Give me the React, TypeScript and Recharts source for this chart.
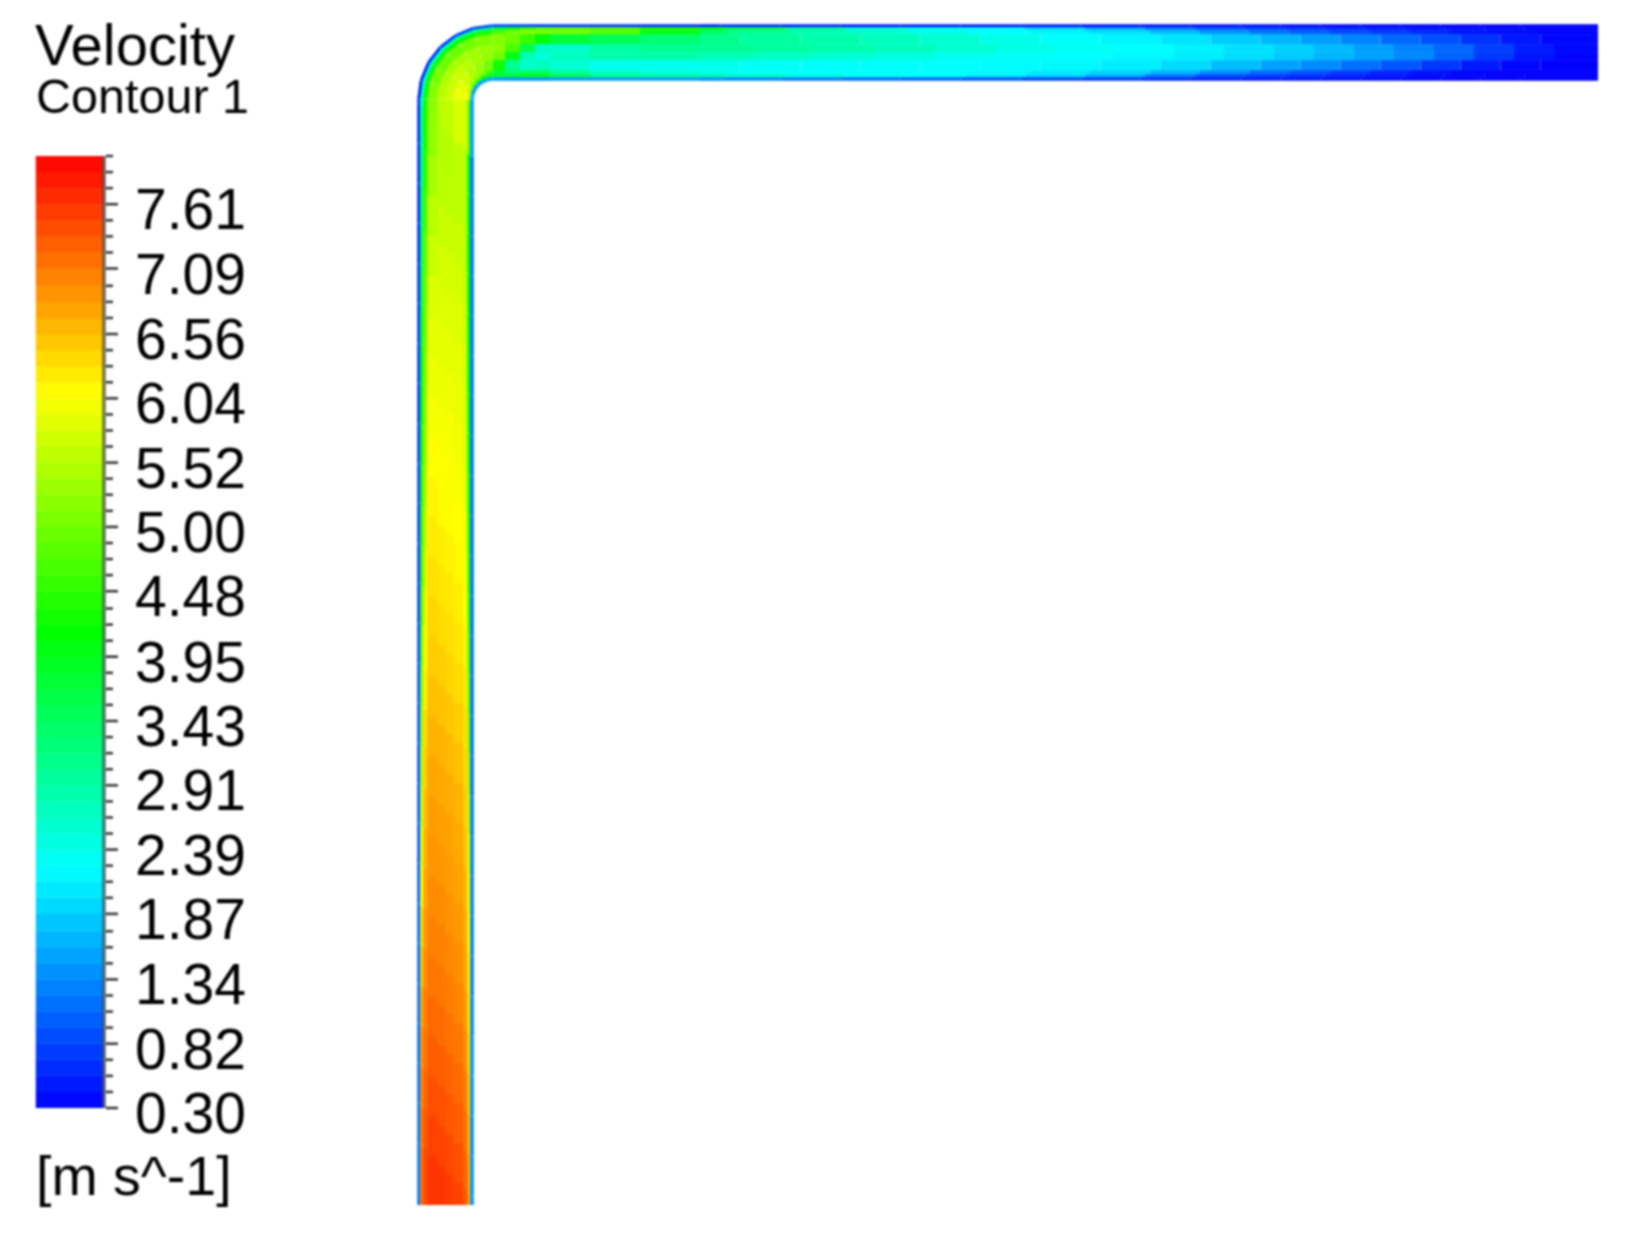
import React from 'react';
import { Bar, BarChart, ComposedChart, Line, XAxis, YAxis } from 'recharts';

// colour bar levels in m/s, bottom to top
const bandEdges = [
  0.3, 0.43, 0.56, 0.69, 0.82, 0.95, 1.08, 1.21, 1.34, 1.47, 1.6, 1.73, 1.87, 2.0, 2.13, 2.26, 2.39, 2.52, 2.65, 2.78,
  2.91, 3.04, 3.17, 3.3, 3.43, 3.56, 3.69, 3.82, 3.95, 4.08, 4.21, 4.34, 4.48, 4.61, 4.74, 4.87, 5.0, 5.13, 5.26, 5.39,
  5.52, 5.65, 5.78, 5.91, 6.04, 6.17, 6.3, 6.43, 6.56, 6.69, 6.82, 6.95, 7.09, 7.22, 7.35, 7.48, 7.61, 7.74, 7.87, 8.0,
];
const tickLabels = [0.3, 0.82, 1.34, 1.87, 2.39, 2.91, 3.43, 3.95, 4.48, 5.0, 5.52, 6.04, 6.56, 7.09, 7.61];

// stations along the pipe: up the riser, round the bend, along the top run
const riserY = [1205, 1170, 1130, 1090, 1050, 1010, 970, 930, 890, 850, 810, 770, 730, 690, 650, 610, 570, 530, 490, 450, 410, 370, 330, 290, 250, 210, 170, 130];
const bendDeg = [0, 15, 30, 45, 60, 75, 90];
const runX = [505, 520, 535, 550, 590, 640, 700, 760, 820, 880, 940, 1000, 1060, 1120, 1180, 1230, 1280, 1320, 1360, 1400, 1440, 1480, 1520, 1560, 1598];

// layer boundaries across the pipe, from the outer wall to the inner wall
const layerEdges = [0, 3, 6, 10, 20, 28, 36, 46, 50, 53, 56];

// velocity per layer at each station (riser, bend, run)
const layer0 = [
  1.3, 1.3, 1.2, 1.2, 1.2, 1.2, 1.1, 1.2, 1.0, 1.1, 1.0, 1.0, 1.0, 1.0, 0.9, 0.9, 0.9, 0.9, 0.9, 0.8, 0.8, 0.8, 0.8, 0.7, 0.7, 0.7, 0.7, 0.7,
  0.6, 0.6, 0.6, 0.7, 0.8, 0.9, 0.9,
  0.9, 0.9, 0.8, 0.8, 0.7, 0.7, 0.6, 0.6, 0.6, 0.5, 0.5, 0.5, 0.5, 0.4, 0.4, 0.4, 0.4, 0.4, 0.3, 0.3, 0.3, 0.3, 0.3, 0.3, 0.3,
];
const layer1 = [
  7.2, 7.1, 7.0, 6.9, 6.8, 6.6, 6.4, 6.2, 6.0, 5.8, 5.6, 5.4, 5.2, 5.0, 4.8, 4.6, 4.5, 4.4, 4.3, 4.2, 4.1, 3.9, 3.8, 3.6, 3.5, 3.3, 3.1, 3.0,
  2.8, 2.8, 2.8, 2.8, 3.0, 3.1, 3.4,
  4.0, 4.5, 4.8, 4.9, 4.9, 4.6, 4.1, 3.8, 3.3, 2.8, 2.5, 2.3, 2.1, 1.8, 1.4, 1.1, 0.9, 0.8, 0.7, 0.6, 0.5, 0.45, 0.4, 0.35, 0.3,
];
const layer2 = [
  7.5, 7.4, 7.3, 7.2, 7.1, 7.0, 6.9, 6.8, 6.7, 6.6, 6.5, 6.4, 6.3, 6.1, 6.0, 5.9, 5.7, 5.6, 5.4, 5.3, 5.2, 5.1, 5.0, 4.9, 4.7, 4.5, 4.3, 4.2,
  4.0, 4.0, 4.0, 4.0, 4.1, 4.2, 4.5,
  4.9, 5.2, 5.1, 5.0, 5.0, 4.6, 3.5, 3.2, 2.9, 2.7, 2.5, 2.3, 2.2, 2.1, 1.9, 1.6, 1.3, 1.1, 0.95, 0.8, 0.7, 0.5, 0.4, 0.35, 0.3,
];
const layer3 = [
  7.65, 7.55, 7.45, 7.35, 7.25, 7.15, 7.05, 7.0, 6.9, 6.85, 6.8, 6.7, 6.6, 6.5, 6.4, 6.35, 6.25, 6.2, 6.1, 6.05, 6.0, 5.9, 5.85, 5.75, 5.6, 5.5, 5.3, 5.2,
  5.2, 5.1, 5.0, 4.9, 5.0, 5.0, 5.2,
  5.1, 4.8, 4.3, 3.9, 3.6, 3.4, 3.2, 3.0, 2.9, 2.8, 2.65, 2.5, 2.3, 2.2, 2.1, 1.95, 1.75, 1.6, 1.4, 1.2, 1.0, 0.8, 0.55, 0.4, 0.3,
];
const layer4 = [
  7.65, 7.55, 7.45, 7.35, 7.25, 7.15, 7.05, 7.0, 6.9, 6.85, 6.75, 6.7, 6.6, 6.5, 6.4, 6.3, 6.25, 6.15, 6.05, 6.05, 6.0, 5.9, 5.85, 5.8, 5.7, 5.6, 5.5, 5.5,
  5.6, 5.5, 5.4, 5.4, 5.4, 5.3, 5.3,
  5.1, 4.3, 2.9, 2.4, 2.8, 3.0, 3.1, 3.0, 2.9, 2.8, 2.65, 2.5, 2.35, 2.25, 2.2, 2.05, 1.95, 1.8, 1.6, 1.4, 1.2, 0.95, 0.6, 0.4, 0.3,
];
const layer5 = [
  7.6, 7.5, 7.4, 7.3, 7.2, 7.1, 7.0, 6.95, 6.85, 6.8, 6.75, 6.65, 6.55, 6.45, 6.35, 6.3, 6.2, 6.15, 6.05, 6.05, 6.0, 5.9, 5.85, 5.8, 5.7, 5.6, 5.5, 5.5,
  5.7, 5.7, 5.7, 5.6, 5.5, 5.3, 5.2,
  4.8, 3.1, 2.4, 2.6, 2.8, 2.9, 2.8, 2.7, 2.6, 2.5, 2.4, 2.3, 2.25, 2.2, 2.15, 2.05, 1.9, 1.75, 1.6, 1.45, 1.2, 0.9, 0.55, 0.35, 0.3,
];
const layer6 = [
  7.55, 7.45, 7.35, 7.25, 7.15, 7.05, 6.95, 6.9, 6.8, 6.75, 6.7, 6.6, 6.5, 6.4, 6.3, 6.25, 6.15, 6.1, 6.05, 6.0, 5.95, 5.9, 5.85, 5.8, 5.7, 5.6, 5.55, 5.6,
  5.95, 5.95, 5.8, 5.6, 5.4, 5.2, 4.9,
  3.6, 2.5, 2.7, 2.7, 2.4, 2.3, 2.4, 2.3, 2.25, 2.25, 2.25, 2.2, 2.2, 2.15, 2.05, 1.85, 1.6, 1.45, 1.25, 1.05, 0.85, 0.6, 0.4, 0.3, 0.3,
];
const layer7 = [
  7.4, 7.3, 7.2, 7.1, 7.0, 6.9, 6.8, 6.75, 6.7, 6.6, 6.5, 6.45, 6.35, 6.25, 6.2, 6.1, 6.05, 6.0, 5.9, 5.85, 5.8, 5.75, 5.7, 5.65, 5.6, 5.55, 5.5, 5.5,
  6.05, 6.05, 5.7, 5.4, 5.2, 4.8, 4.3,
  3.3, 3.3, 3.6, 3.3, 2.7, 2.5, 2.4, 2.3, 2.25, 2.25, 2.25, 2.2, 2.15, 2.0, 1.8, 1.5, 1.2, 1.0, 0.85, 0.65, 0.5, 0.35, 0.3, 0.3, 0.3,
];
const layer8 = [
  6.9, 6.8, 6.7, 6.6, 6.5, 6.3, 6.2, 6.1, 6.0, 5.9, 5.7, 5.5, 5.3, 5.1, 5.0, 4.8, 4.7, 4.6, 4.5, 4.4, 4.3, 4.3, 4.2, 4.2, 4.1, 4.1, 4.0, 4.0,
  5.8, 5.5, 4.9, 4.6, 4.3, 4.1, 3.9,
  3.8, 4.0, 4.1, 3.9, 3.3, 3.1, 3.0, 2.9, 2.6, 2.4, 2.25, 2.2, 2.0, 1.8, 1.4, 1.0, 0.8, 0.7, 0.6, 0.5, 0.4, 0.35, 0.3, 0.3, 0.3,
];
const layer9 = [
  1.4, 1.5, 1.4, 1.4, 1.5, 1.4, 1.3, 1.3, 1.3, 1.3, 1.3, 1.2, 1.2, 1.2, 1.2, 1.2, 1.2, 1.2, 1.2, 1.2, 1.2, 1.2, 1.2, 1.2, 1.2, 1.2, 1.2, 1.2,
  1.8, 1.5, 1.5, 1.6, 1.5, 1.6, 1.6,
  1.5, 1.5, 1.5, 1.5, 1.5, 1.5, 1.5, 1.4, 1.3, 1.2, 1.1, 1.0, 0.9, 0.8, 0.7, 0.6, 0.5, 0.5, 0.45, 0.4, 0.35, 0.3, 0.3, 0.3, 0.3,
];
const layers = [layer0, layer1, layer2, layer3, layer4, layer5, layer6, layer7, layer8, layer9];

// rainbow map of the legend: blue, cyan, green, yellow, red
const velocityColor = (v: number) => {
  const t = Math.min(1, Math.max(0, (v - 0.3) / 7.7)) * 4;
  const hex = (c: number) => Math.round(c * 255).toString(16).padStart(2, '0');
  if (t < 1) return `#00${hex(t)}ff`;
  if (t < 2) return `#00ff${hex(2 - t)}`;
  if (t < 3) return `#${hex(t - 2)}ff00`;
  return `#ff${hex(4 - t)}00`;
};

// pipe geometry in picture units
const wallX = 417.5;
const wallY = 24.5;
const bendCx = 492.5;
const bendCy = 99.5;
const bendR = 75;
const midPipe = 28;

// contour bands lean across the riser and form chevrons towards the outlet
const riserPoint = (y: number, off: number) => ({
  x: wallX + off,
  y: y === riserY[0] ? y : Math.min(riserY[0], y + off - midPipe),
});
const bendPoint = (deg: number, off: number) => {
  const a = (deg * Math.PI) / 180;
  return { x: bendCx - (bendR - off) * Math.cos(a), y: bendCy - (bendR - off) * Math.sin(a) };
};
const runPoint = (x: number, off: number) => {
  const lean = x >= 760 && x < 1598 ? Math.abs(off - midPipe) * 1.5 : 0;
  return { x: x - lean, y: wallY + off };
};

const stationPoint = (i: number, off: number) => {
  if (i < riserY.length) return riserPoint(riserY[i], off);
  const j = i - riserY.length;
  if (j < bendDeg.length) return bendPoint(bendDeg[j], off);
  return runPoint(runX[j - bendDeg.length], off);
};

const segments = layers.flatMap((values, l) => {
  const off = (layerEdges[l] + layerEdges[l + 1]) / 2;
  const width = layerEdges[l + 1] - layerEdges[l];
  return values.slice(0, -1).map((v, i) => ({
    key: `${l}-${i}`,
    width,
    color: velocityColor((v + values[i + 1]) / 2),
    points: [stationPoint(i, off), stationPoint(i + 1, off)],
  }));
});

const barRow: Record<string, number | string> = { name: 'velocity', base: bandEdges[0] };
bandEdges.slice(0, -1).forEach((edge, i) => {
  barRow[`band${i}`] = bandEdges[i + 1] - edge;
});

const frameLine = { stroke: 'rgba(70,78,80,0.7)', strokeWidth: 4 };

const ColorTick = ({ x, y, payload }: any) => {
  const major = tickLabels.includes(payload.value);
  return (
    <g>
      <line x1={x} x2={x + (major ? 12 : 7)} y1={y} y2={y} stroke="#333" strokeWidth={2.5} />
      {major && (
        <text x={x + 29} y={y + 25} fontSize={57} fill="#000" fontFamily="Liberation Sans">
          {payload.value.toFixed(2)}
        </text>
      )}
    </g>
  );
};

export default function App() {
  return (
    <div style={{ position: 'absolute', left: 0, top: 0, width: 1627, height: 1236, background: '#fff', filter: 'blur(0.8px)' }}>
      <div style={{ position: 'absolute', left: 0, top: 0 }}>
        <ComposedChart width={1627} height={1236} margin={{ top: 0, right: 0, bottom: 0, left: 0 }}>
          <XAxis hide type="number" dataKey="x" domain={[0, 1627]} />
          <YAxis hide type="number" domain={[0, 1236]} reversed />
          {segments.map((s) => (
            <Line
              key={s.key}
              data={s.points}
              dataKey="y"
              stroke={s.color}
              strokeWidth={s.width + 0.7}
              dot={false}
              activeDot={false}
              legendType="none"
              isAnimationActive={false}
            />
          ))}
        </ComposedChart>
      </div>

      <div style={{ position: 'absolute', left: 0, top: 0 }}>
        <BarChart
          width={280}
          height={1236}
          data={[barRow]}
          barCategoryGap={0}
          margin={{ top: 156, right: 0, bottom: 128, left: 36 }}
        >
          <Bar yAxisId="values" dataKey="base" stackId="bar" fill="none" isAnimationActive={false} />
          {bandEdges.slice(0, -1).map((edge, i) => (
            <Bar
              key={edge}
              yAxisId="values"
              dataKey={`band${i}`}
              stackId="bar"
              fill={velocityColor(edge + 0.065)}
              stroke={velocityColor(edge + 0.065)}
              strokeWidth={0.5}
              isAnimationActive={false}
            />
          ))}
          <XAxis dataKey="name" orientation="top" height={0} tick={false} tickLine={false} axisLine={frameLine} />
          <YAxis yAxisId="frame" width={0} domain={[0.3, 8]} tick={false} tickLine={false} axisLine={frameLine} />
          <YAxis
            yAxisId="values"
            orientation="right"
            width={176}
            type="number"
            domain={[0.3, 8]}
            allowDataOverflow
            ticks={bandEdges}
            interval={0}
            tickSize={0}
            tickLine={false}
            axisLine={frameLine}
            tick={<ColorTick />}
          />
          <text x={35} y={65} fontSize={58} fill="#000" fontFamily="Liberation Sans">Velocity</text>
          <text x={36} y={113} fontSize={48.5} fill="#000" fontFamily="Liberation Sans">Contour 1</text>
          <text x={36} y={1195} fontSize={55.5} fill="#000" fontFamily="Liberation Sans">[m s^-1]</text>
        </BarChart>
      </div>
    </div>
  );
}
